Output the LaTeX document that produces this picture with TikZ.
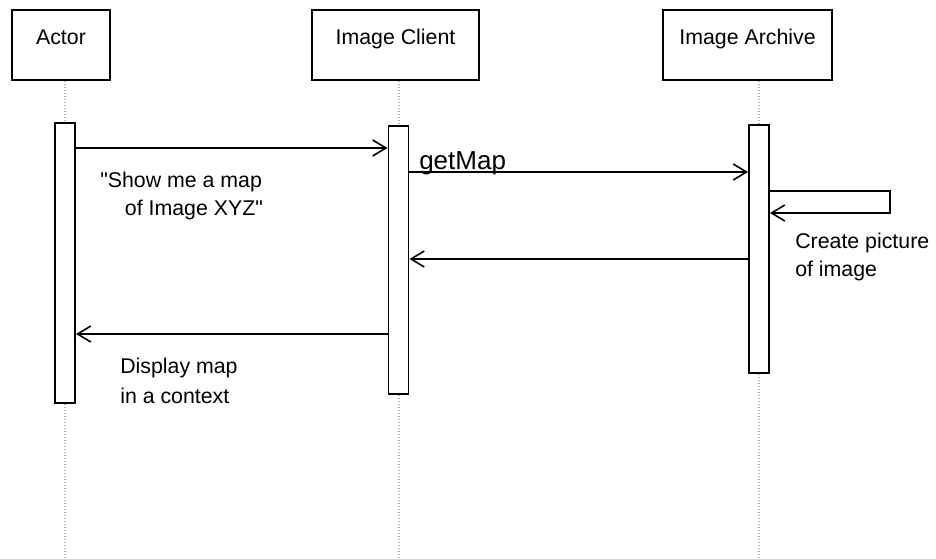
\documentclass[tikz,border=0pt]{standalone}
\usepackage{fontspec}
\setmainfont{Liberation Sans}[Ligatures=TeXOff]
\usetikzlibrary{arrows.meta}

\tikzset{
  objbox/.style={draw, line width=1.6pt, minimum height=52.5pt,
    text height=12pt, text depth=12.6pt, font=\fontsize{16}{21}\selectfont},
  actbar/.style={draw, fill=white, line width=1.4pt, minimum width=15pt, inner sep=0pt},
  lifeline/.style={draw=gray!60, line width=1.5pt, dash pattern=on 0.8pt off 1.45pt},
  msg/.style={line width=1.2pt, -{Straight Barb[length=10pt,width=12pt,line width=1.2pt]}},
  note/.style={inner sep=0pt, align=left, font=\fontsize{16}{21}\selectfont}
}

\begin{document}
\begin{tikzpicture}[x=0.75pt, y=-0.75pt]
  \useasboundingbox (0,0) rectangle (936,559);

  % objects
  \node[objbox, minimum width=73.5pt] (actor) at (61,45) {Actor};
  \node[objbox, minimum width=125.25pt] (client) at (395.5,45) {Image Client};
  \node[objbox, minimum width=126.75pt] (archive) at (747.5,45) {Image Archive};

  % activation bars
  \node[actbar, minimum height=210pt] (barA) at (65,263) {};
  \node[actbar, minimum height=201pt] (barC) at (398.5,260) {};
  \node[actbar, minimum height=186pt] (barR) at (759,249) {};

  % lifelines
  \coordinate (bottom) at (0,559);
  \draw[lifeline] (barA.north |- actor.south) -- (barA.north);
  \draw[lifeline] (barA.south) -- (barA.south |- bottom);
  \draw[lifeline] (barC.north |- client.south) -- (barC.north);
  \draw[lifeline] (barC.south) -- (barC.south |- bottom);
  \draw[lifeline] (barR.north |- archive.south) -- (barR.north);
  \draw[lifeline] (barR.south) -- (barR.south |- bottom);

  % messages
  \coordinate (m1) at (0,148);
  \coordinate (m2) at (0,172);
  \coordinate (loopTop) at (890,191);
  \coordinate (loopBot) at (890,213);
  \coordinate (m4) at (0,259);
  \coordinate (m5) at (0,334);

  \draw[msg] (barA.east |- m1) -- (barC.west |- m1);
  \draw[msg] (barC.east |- m2) -- (barR.west |- m2);
  \draw[msg] (barR.east |- loopTop) -- (loopTop) -- (loopBot) -- (barR.east |- loopBot);
  \draw[msg] (barR.west |- m4) -- (barC.east |- m4);
  \draw[msg] (barC.west |- m5) -- (barA.east |- m5);

  % labels
  \node[note, anchor=west] (lblShow) at (100,196) {"Show me a map\\\hspace*{18.5pt}of Image XYZ"};
  \node[note, anchor=base west, font=\fontsize{19.5}{23}\selectfont] (lblGet) at (419,170) {getMap};
  \node[note, anchor=west] (lblCreate) at (795,257) {Create picture\\of image};
  \node[note, anchor=west] (lblDisplay) at (120,381) {Display map\\[1.5pt]in a context};
\end{tikzpicture}
\end{document}
